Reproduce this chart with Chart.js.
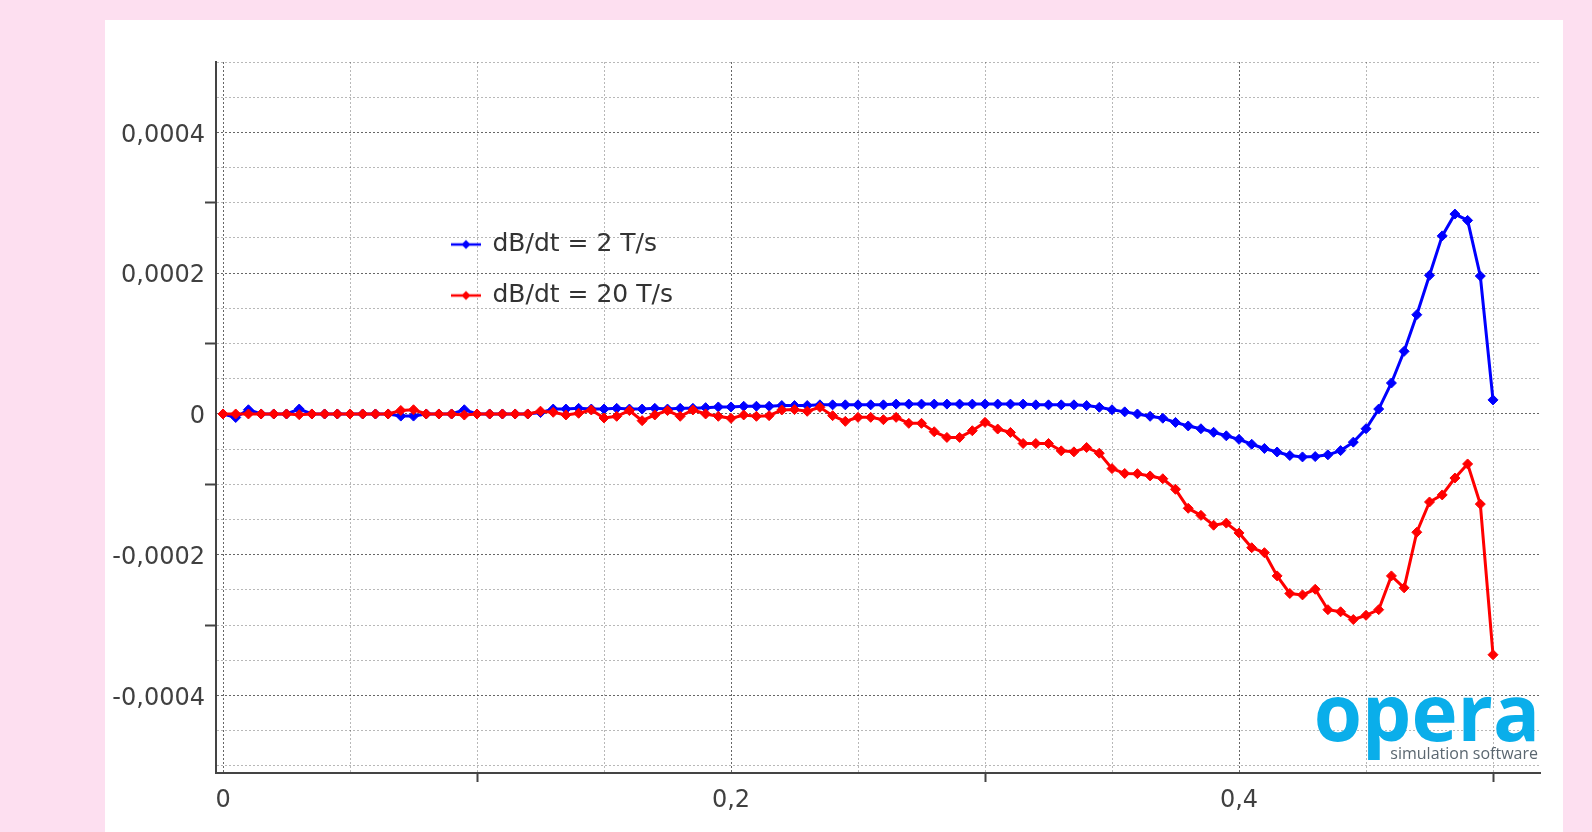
<!DOCTYPE html>
<html>
<head>
<meta charset="utf-8">
<script src="https://cdn.jsdelivr.net/npm/chart.js@4.4.1/dist/chart.umd.min.js"></script>
<style>
  html, body { margin: 0; padding: 0; }
  body { width: 1592px; height: 832px; background: #fddff0; overflow: hidden; position: relative; }
  #painel { position: absolute; left: 105px; top: 20px; width: 1458px; height: 812px; background: #fff; }
  canvas { display: block; }
</style>
</head>
<body>
<div id="painel"><canvas id="grafico" width="1458" height="812"></canvas></div>
<script>
// posições no eixo x (passo de 0,005)
var posicoes = [
  0, 0.005, 0.01, 0.015, 0.02, 0.025, 0.03, 0.035, 0.04, 0.045,
  0.05, 0.055, 0.06, 0.065, 0.07, 0.075, 0.08, 0.085, 0.09, 0.095,
  0.1, 0.105, 0.11, 0.115, 0.12, 0.125, 0.13, 0.135, 0.14, 0.145,
  0.15, 0.155, 0.16, 0.165, 0.17, 0.175, 0.18, 0.185, 0.19, 0.195,
  0.2, 0.205, 0.21, 0.215, 0.22, 0.225, 0.23, 0.235, 0.24, 0.245,
  0.25, 0.255, 0.26, 0.265, 0.27, 0.275, 0.28, 0.285, 0.29, 0.295,
  0.3, 0.305, 0.31, 0.315, 0.32, 0.325, 0.33, 0.335, 0.34, 0.345,
  0.35, 0.355, 0.36, 0.365, 0.37, 0.375, 0.38, 0.385, 0.39, 0.395,
  0.4, 0.405, 0.41, 0.415, 0.42, 0.425, 0.43, 0.435, 0.44, 0.445,
  0.45, 0.455, 0.46, 0.465, 0.47, 0.475, 0.48, 0.485, 0.49, 0.495,
  0.5
];

// dB/dt = 2 T/s
var serie2 = [
  0, -0.000005, 0.000006, 0, 0, 0, 0.000007, 0, 0, 0,
  0, 0, 0, 0, -0.000003, -0.000003, 0, 0, 0, 0.000006,
  0, 0, 0, 0, 0, 0.000002, 0.000007, 0.000007, 0.000008, 0.000007,
  0.000007, 0.000008, 0.000007, 0.000007, 0.000008, 0.000007, 0.000008, 0.000008, 0.000009, 0.00001,
  0.00001, 0.000011, 0.000011, 0.000011, 0.000012, 0.000012, 0.000012, 0.000013, 0.000013, 0.000013,
  0.000013, 0.000013, 0.000013, 0.000014, 0.000014, 0.000014, 0.000014, 0.000014, 0.000014, 0.000014,
  0.000014, 0.000014, 0.000014, 0.000014, 0.000013, 0.000013, 0.000013, 0.000013, 0.000012, 0.0000095,
  0.000006, 0.000003, 0, -0.0000033, -0.000006, -0.000012, -0.000017, -0.000021, -0.000026, -0.000031,
  -0.000036, -0.000043, -0.000049, -0.000054, -0.000059, -0.000061, -0.0000605, -0.000058, -0.000052, -0.00004,
  -0.000021, 0.000007, 0.000044, 0.000089, 0.000141, 0.000197, 0.000253, 0.000284, 0.000275, 0.000196,
  0.00002
];

// dB/dt = 20 T/s
var serie20 = [
  0, 0, 0, 0, 0, 0, -0.000001, 0, 0, 0,
  0, 0, 0, 0, 0.000005, 0.000006, 0, 0, 0, -0.0000015,
  0, 0, 0, 0, 0, 0.000004, 0.0000024, -0.0000014, 0.000001, 0.0000057,
  -0.0000057, -0.0000033, 0.0000048, -0.0000095, -0.0000014, 0.0000048, -0.0000033, 0.0000057, 0, -0.0000033,
  -0.0000062, -0.0000014, -0.0000033, -0.0000024, 0.0000057, 0.0000062, 0.0000038, 0.0000095, -0.0000024, -0.0000105,
  -0.0000048, -0.0000048, -0.0000081, -0.0000048, -0.0000133, -0.0000133, -0.0000252, -0.0000333, -0.0000333, -0.0000238,
  -0.0000119, -0.0000214, -0.0000262, -0.0000419, -0.0000419, -0.0000419, -0.0000524, -0.0000538, -0.0000476, -0.0000557,
  -0.0000776, -0.0000845, -0.0000848, -0.000088, -0.000092, -0.000107, -0.000134, -0.000144, -0.000158, -0.000155,
  -0.000169, -0.00019, -0.000197, -0.00023, -0.000255, -0.000257, -0.000249, -0.000278, -0.000281, -0.000292,
  -0.000286, -0.000278, -0.00023, -0.000247, -0.000168, -0.000125, -0.000115, -0.000091, -0.000071, -0.000128,
  -0.000342
];

var nomes = ["dB/dt = 2 T/s", "dB/dt = 20 T/s"];
var cores = ["#0000ff", "#ff0000"];

// grade e marcas dos eixos
var gradeX = [0, 0.05, 0.1, 0.15, 0.2, 0.25, 0.3, 0.35, 0.4, 0.45, 0.5];
var rotulosX = [0, 0.2, 0.4];
var tracosX = [0.1, 0.3, 0.5];
var gradeY = [-0.0005, -0.00045, -0.0004, -0.00035, -0.0003, -0.00025, -0.0002, -0.00015, -0.0001, -0.00005,
  0, 0.00005, 0.0001, 0.00015, 0.0002, 0.00025, 0.0003, 0.00035, 0.0004, 0.00045, 0.0005];
var rotulosY = [-0.0004, -0.0002, 0, 0.0002, 0.0004];
var tracosY = [-0.0003, -0.0001, 0.0001, 0.0003];

function contem(lista, v) {
  return lista.some(function (a) { return Math.abs(a - v) < 1e-9; });
}

function formata(v) {
  if (Math.abs(v) < 1e-12) return "0";
  var casas = Math.abs(v) < 0.01 ? 4 : 1;
  return v.toFixed(casas).replace(".", ",");
}

function pontos(serie) {
  return posicoes.map(function (x, i) { return { x: x, y: serie[i] }; });
}

// ícone da legenda: linha com losango
function iconeLegenda(cor) {
  var c = document.createElement("canvas");
  c.width = 30;
  c.height = 12;
  var g = c.getContext("2d");
  g.strokeStyle = cor;
  g.lineWidth = 2.5;
  g.beginPath();
  g.moveTo(0, 6);
  g.lineTo(30, 6);
  g.stroke();
  g.fillStyle = cor;
  g.beginPath();
  g.moveTo(15, 1.5);
  g.lineTo(19.5, 6);
  g.lineTo(15, 10.5);
  g.lineTo(10.5, 6);
  g.closePath();
  g.fill();
  return c;
}

var moveLegenda = {
  id: "moveLegenda",
  afterLayout: function (chart) {
    var l = chart.legend;
    var area = chart.chartArea;
    l.left = area.left + 210;
    l.right = l.left + l.width;
    l.top = area.top + 144;
    l.bottom = l.top + l.height;
  },
};

var logo = {
  id: "logo",
  afterDraw: function (chart) {
    var ctx = chart.ctx;
    var area = chart.chartArea;
    ctx.save();
    ctx.textAlign = "right";
    ctx.textBaseline = "alphabetic";
    ctx.fillStyle = "#0aaeea";
    ctx.font = 'bold 78px "Open Sans"';
    ctx.fillText("opera", area.right, area.bottom - 32);
    ctx.fillStyle = "#5b6770";
    ctx.font = '16px "Open Sans"';
    ctx.fillText("simulation software", area.right - 2, area.bottom - 14);
    ctx.restore();
  },
};

function corGrade(lista) {
  return function (ctx) {
    if (!ctx.tick) return "rgba(0,0,0,0)";
    return contem(lista, ctx.tick.value) ? "rgba(0,0,0,0.6)" : "rgba(0,0,0,0.28)";
  };
}

function corTraco(lista) {
  return function (ctx) {
    if (!ctx.tick) return "rgba(0,0,0,0)";
    return contem(lista, ctx.tick.value) ? "#444" : "rgba(0,0,0,0)";
  };
}

const grafico = new Chart(document.getElementById("grafico"), {
  type: "line",
  data: {
    datasets: [
      {
        label: nomes[0],
        data: pontos(serie2),
        borderColor: cores[0],
        backgroundColor: cores[0],
        pointBackgroundColor: cores[0],
        pointBorderColor: cores[0],
        borderWidth: 3,
        pointStyle: "rectRot",
        pointRadius: 5,
        pointBorderWidth: 1,
        tension: 0,
        order: 1,
      },
      {
        label: nomes[1],
        data: pontos(serie20),
        borderColor: cores[1],
        backgroundColor: cores[1],
        pointBackgroundColor: cores[1],
        pointBorderColor: cores[1],
        borderWidth: 3,
        pointStyle: "rectRot",
        pointRadius: 5,
        pointBorderWidth: 1,
        tension: 0,
        order: 0,
      },
    ],
  },
  options: {
    responsive: false,
    animation: false,
    layout: { padding: { top: 42, right: 23, left: 0, bottom: 0 } },
    scales: {
      x: {
        type: "linear",
        min: -0.00276,
        max: 0.5185,
        afterBuildTicks: function (s) {
          s.ticks = gradeX.map(function (v) { return { value: v }; });
        },
        afterFit: function (s) { s.height = 59; },
        ticks: {
          autoSkip: false,
          maxRotation: 0,
          padding: 4,
          color: "#404040",
          font: { family: "DejaVu Sans", size: 24 },
          callback: function (v) { return contem(rotulosX, v) ? formata(v) : ""; },
        },
        grid: {
          color: corGrade(rotulosX),
          lineWidth: 1,
          tickLength: 9,
          tickWidth: 2,
          tickColor: corTraco(tracosX),
        },
        border: { display: true, color: "#444", width: 2, dash: [2, 2] },
      },
      y: {
        type: "linear",
        min: -0.00051,
        max: 0.0005,
        afterBuildTicks: function (s) {
          s.ticks = gradeY.map(function (v) { return { value: v }; });
        },
        afterFit: function (s) { s.width = 111; },
        ticks: {
          autoSkip: false,
          padding: 0,
          labelOffset: 3,
          color: "#404040",
          font: { family: "DejaVu Sans", size: 24 },
          callback: function (v) { return contem(rotulosY, v) ? formata(v) : ""; },
        },
        grid: {
          color: corGrade(rotulosY),
          lineWidth: 1,
          tickLength: 11,
          tickWidth: 2,
          tickColor: corTraco(tracosY),
        },
        border: { display: true, color: "#444", width: 2, dash: [2, 2] },
      },
    },
    plugins: {
      tooltip: { enabled: false },
      legend: {
        position: "chartArea",
        align: "start",
        labels: {
          usePointStyle: true,
          pointStyleWidth: 28,
          padding: 26,
          color: "#333",
          font: { family: "DejaVu Sans", size: 25 },
          generateLabels: function (chart) {
            return chart.data.datasets.map(function (ds, i) {
              return {
                text: ds.label,
                pointStyle: iconeLegenda(ds.borderColor),
                fillStyle: ds.borderColor,
                strokeStyle: ds.borderColor,
                lineWidth: 0,
                fontColor: "#333",
                hidden: false,
                datasetIndex: i,
              };
            });
          },
        },
      },
    },
  },
  plugins: [moveLegenda, logo],
});
</script>
</body>
</html>
